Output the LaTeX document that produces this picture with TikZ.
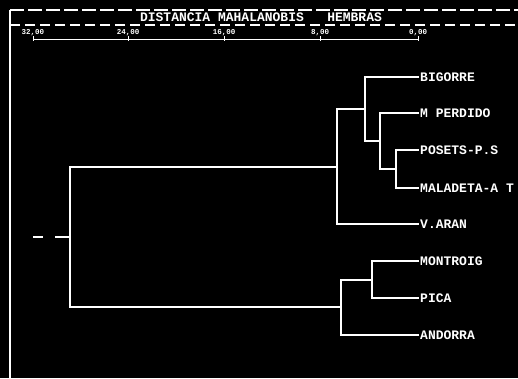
\documentclass[tikz,border=0pt]{standalone}
\usepackage{fontspec}
\newfontfamily\dfont{Liberation Mono}
\begin{document}
\begin{tikzpicture}[x=1pt,y=-1pt,
  wline/.style={draw=white,line width=1.2pt},
  leaf/.style={anchor=west,text=white,inner sep=1pt,font=\dfont\bfseries\fontsize{13}{13}\selectfont},
  axlab/.style={text=white,inner sep=0pt,font=\dfont\bfseries\fontsize{7.5}{7.5}\selectfont},
  ttl/.style={text=white,inner sep=0pt,font=\dfont\bfseries\fontsize{13}{13}\selectfont}]
\fill[black] (0,0) rectangle (518,378);
\useasboundingbox (0,0) rectangle (518,378);
% frame
\coordinate (tl) at (10,10);
\coordinate (tr) at (518,10);
\coordinate (bl) at (10,378);
\coordinate (ml) at (10,25);
\coordinate (mr) at (518,25);
\draw[wline,dash pattern=on 14pt off 4pt] (tl) -- (tr);
\draw[wline,dash pattern=on 10pt off 5pt] (ml) -- (mr);
\draw[wline] (tl) -- (bl);
\node[ttl] (title) at (261,17) {DISTANCIA MAHALANOBIS\ \ \ HEMBRAS};
% axis
\coordinate (a0) at (33,39);
\coordinate (a1) at (418,39);
\draw[draw=white,line width=1pt] (a0) -- (a1);
\foreach \x/\t/\n in {33/32{,}00/l0,128/24{,}00/l1,224/16{,}00/l2,320/8{,}00/l3,418/0{,}00/l4}{
  \node[axlab] (\n) at (\x,33) {\t};
  \draw[draw=white,line width=1pt] (\x,36) -- (\x,41);
}
% leaves
\node[leaf] (big) at (419,77) {BIGORRE};
\node[leaf] (mper) at (419,113) {M PERDIDO};
\node[leaf] (pos) at (419,150) {POSETS-P.S};
\node[leaf] (mal) at (419,188) {MALADETA-A T};
\node[leaf] (var) at (419,224) {V.ARAN};
\node[leaf] (mon) at (419,261) {MONTROIG};
\node[leaf] (pic) at (419,298) {PICA};
\node[leaf] (and) at (419,335) {ANDORRA};
% internal junctions
\coordinate (n1) at (396,169);
\coordinate (n2) at (380,141);
\coordinate (n3) at (365,109);
\coordinate (n4) at (337,167);
\coordinate (n5) at (372,280);
\coordinate (n6) at (341,307);
\coordinate (root) at (70,237);
\coordinate (stub) at (33,237);
\draw[wline] (pos.west) -| (n1) |- (mal.west);
\draw[wline] (mper.west) -| (n2) |- (n1);
\draw[wline] (big.west) -| (n3) |- (n2);
\draw[wline] (n3) -| (n4) |- (var.west);
\draw[wline] (mon.west) -| (n5) |- (pic.west);
\draw[wline] (n5) -| (n6) |- (and.west);
\draw[wline] (n4) -| (root) |- (n6);
\draw[wline,dash pattern=on 10pt off 12pt on 20pt off 0pt] (stub) -- (root);
\end{tikzpicture}
\end{document}
